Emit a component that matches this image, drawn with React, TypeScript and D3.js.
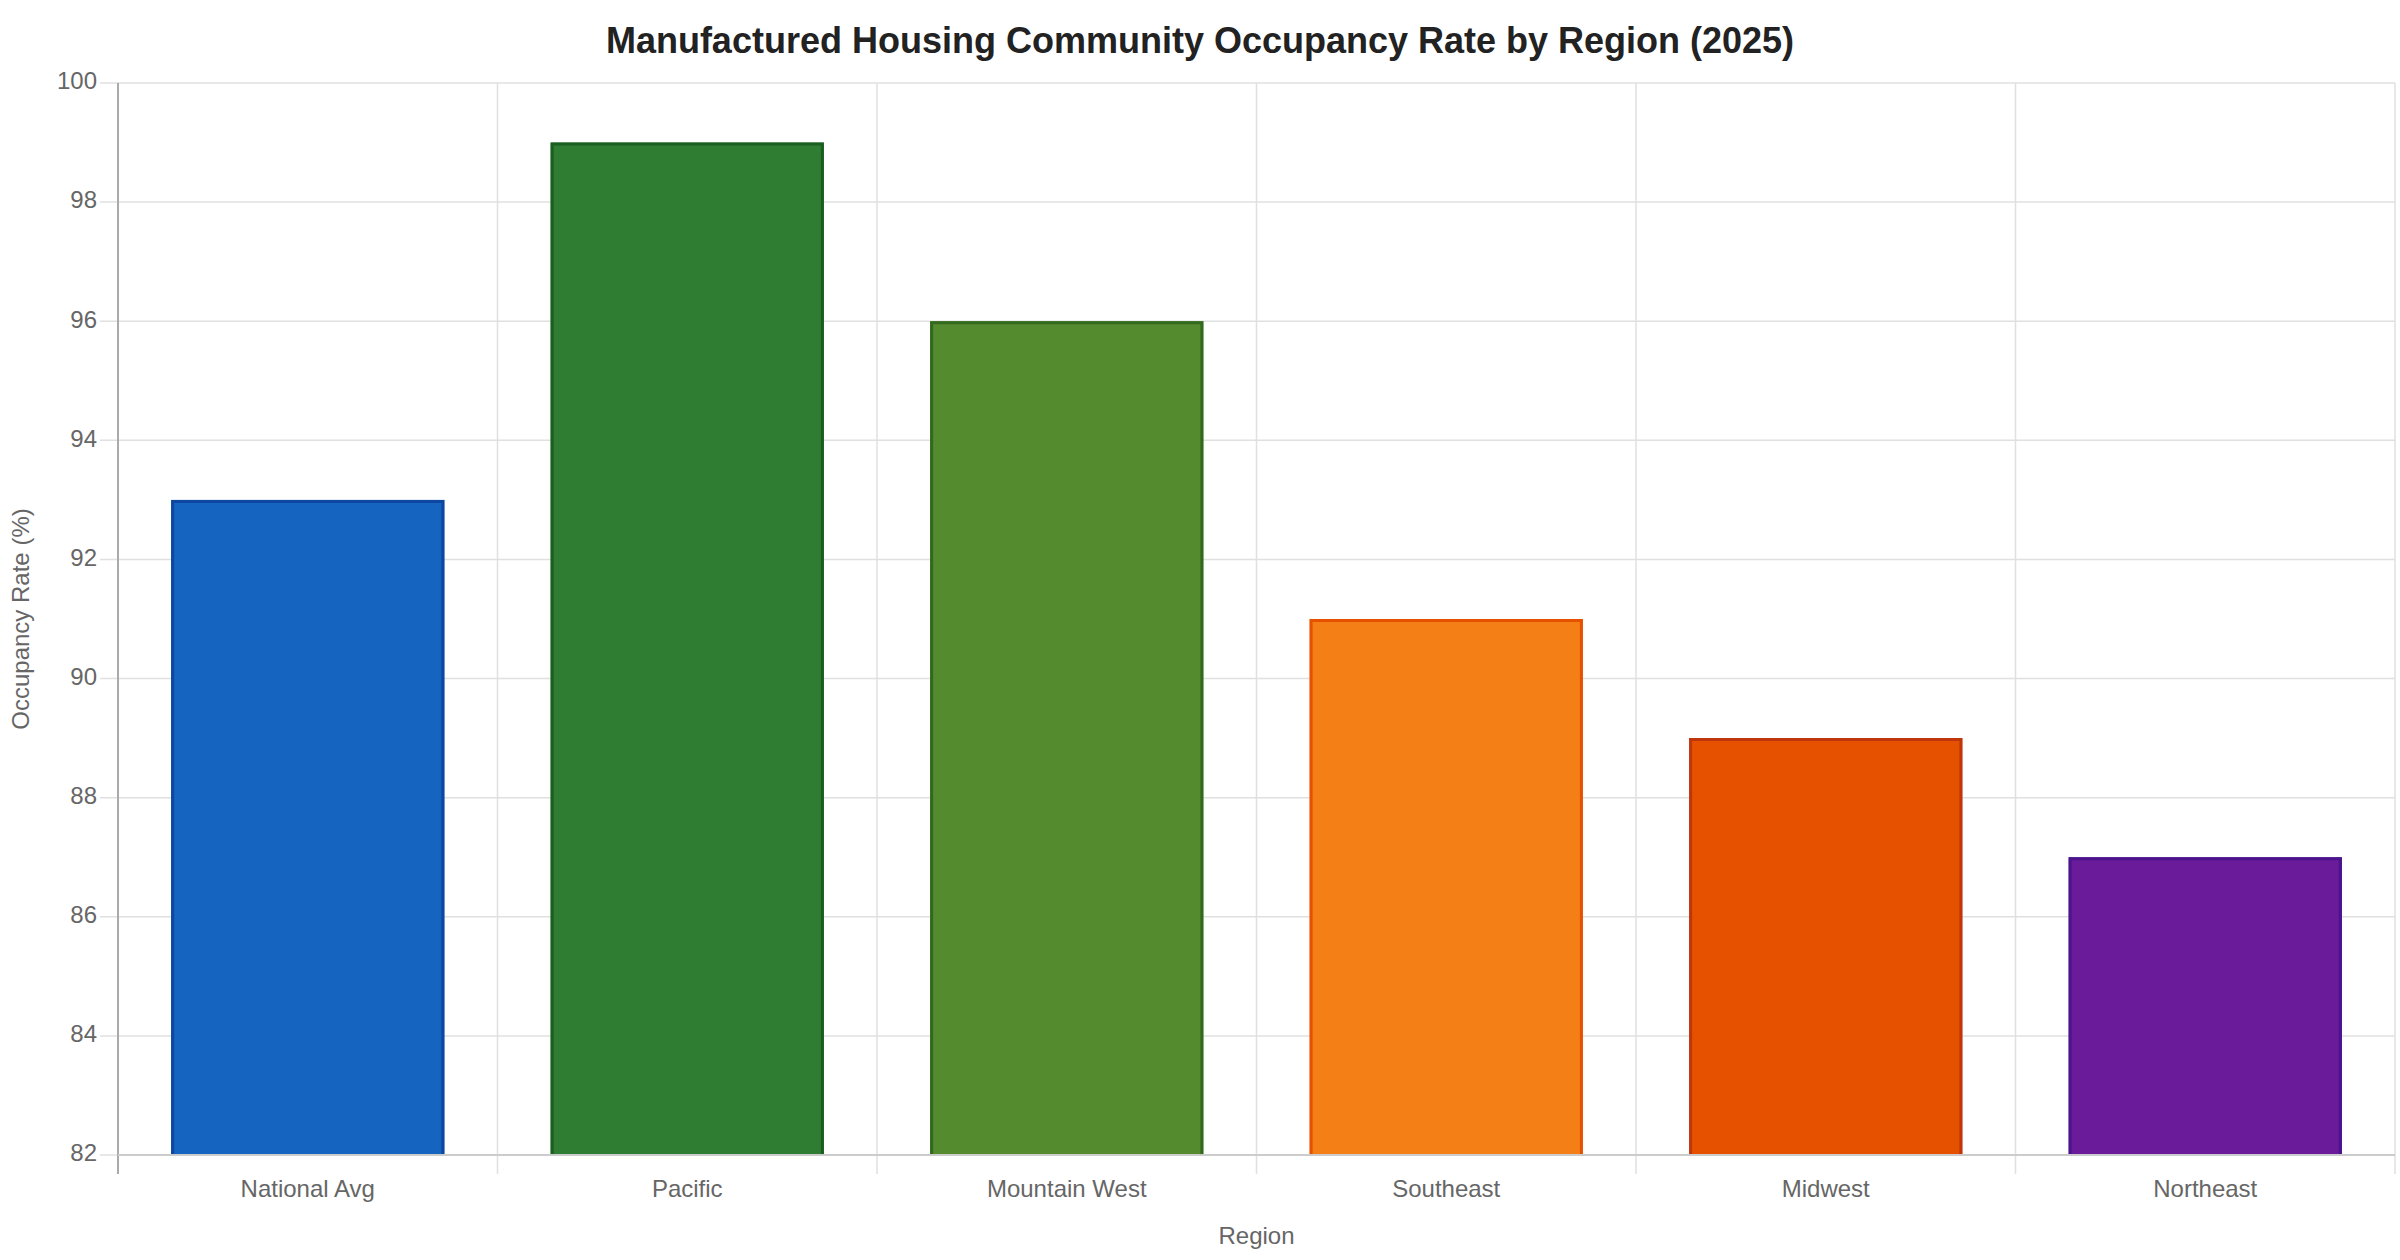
import React from 'react'
import * as d3 from 'd3'

const regions = ['National Avg', 'Pacific', 'Mountain West', 'Southeast', 'Midwest', 'Northeast']
const occupancy = [93, 99, 96, 91, 89, 87]
const fills = ['#1565C0', '#2E7D32', '#558B2F', '#F57F17', '#E65100', '#6A1B9A']
const borders = ['#0D47A1', '#1B5E20', '#33691E', '#E65100', '#BF360C', '#4A148C']
const yTicks = [82, 84, 86, 88, 90, 92, 94, 96, 98, 100]

const W = 2400
const H = 1260
const margin = { top: 83, right: 5, bottom: 105, left: 118 }
const font = '"Liberation Sans", Arial, sans-serif'

export default function App () {
  const x0 = margin.left
  const x1 = W - margin.right
  const y0 = H - margin.bottom
  const y1 = margin.top

  const x = d3.scaleBand().domain(regions).range([x0, x1])
  const y = d3.scaleLinear().domain([82, 100]).range([y0, y1])
  const barW = x.bandwidth() * 0.72
  const bw = 3

  const bounds = regions.map((r) => x(r)).concat([x1])

  return (
    <svg width={W} height={H} style={{ position: 'absolute', left: 0, top: 0, background: '#fff' }}>
      <text x={W / 2} y={43} textAnchor='middle' dominantBaseline='middle'
        fontFamily={font} fontWeight='bold' fontSize={36} fill='#222'>
        Manufactured Housing Community Occupancy Rate by Region (2025)
      </text>

      {/* horizontal grid */}
      {yTicks.map((t) => (
        <g key={t}>
          <line x1={x0 - 18} x2={x1} y1={y(t)} y2={y(t)} stroke='#e0e0e0' strokeWidth={1.5} />
          <text x={x0 - 21} y={y(t)} textAnchor='end' dominantBaseline='middle'
            fontFamily={font} fontSize={24} fill='#666'>{t}</text>
        </g>
      ))}

      {/* vertical grid at category boundaries */}
      {bounds.map((b, i) => (
        <line key={i} x1={b} x2={b} y1={y1} y2={y0 + 19}
          stroke={i === 0 ? '#aaa' : '#e0e0e0'} strokeWidth={i === 0 ? 2 : 1.5} />
      ))}

      {/* bars */}
      {regions.map((r, i) => {
        const cx = x(r) + x.bandwidth() / 2
        const left = cx - barW / 2
        const top = y(occupancy[i])
        const h = y0 - top
        return (
          <g key={r}>
            <rect x={left} y={top} width={barW} height={h} fill={fills[i]} />
            <path
              d={`M${left + bw / 2},${y0} V${top + bw / 2} H${left + barW - bw / 2} V${y0}`}
              fill='none' stroke={borders[i]} strokeWidth={bw} />
          </g>
        )
      })}

      <line x1={x0} x2={x1} y1={y0} y2={y0} stroke='#ccc' strokeWidth={2} />

      {regions.map((r) => (
        <text key={r} x={x(r) + x.bandwidth() / 2} y={y0 + 36} textAnchor='middle' dominantBaseline='middle'
          fontFamily={font} fontSize={24} fill='#666'>{r}</text>
      ))}

      <text x={(x0 + x1) / 2} y={1238} textAnchor='middle' dominantBaseline='middle'
        fontFamily={font} fontSize={24} fill='#666'>Region</text>
      <text transform={`translate(23,${(y0 + y1) / 2}) rotate(-90)`} textAnchor='middle' dominantBaseline='middle'
        fontFamily={font} fontSize={24} fill='#666'>Occupancy Rate (%)</text>
    </svg>
  )
}
